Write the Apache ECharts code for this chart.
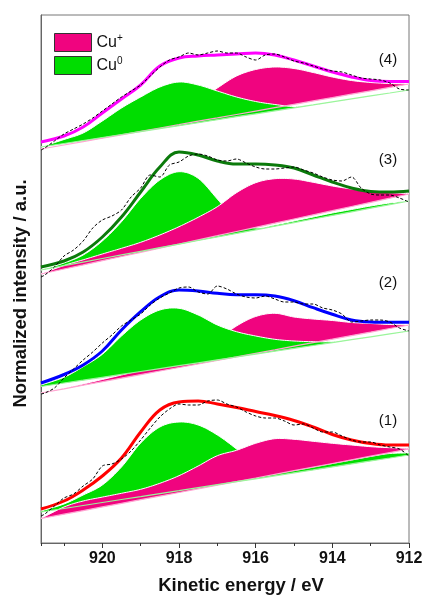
<!DOCTYPE html>
<html>
<head>
<meta charset="utf-8">
<script src="https://cdn.jsdelivr.net/npm/echarts@6/dist/echarts.min.js"></script>
<style>
html, body { margin: 0; padding: 0; background: #fff; }
#chart { width: 425px; height: 597px; }
</style>
</head>
<body>
<div id="chart"></div>
<script>
// energy grid of the fitted curves (eV)
const energy = [921.6, 921, 920.5, 920, 919.5, 919, 918.5, 918, 917.5, 917, 916.5, 916, 915.5, 915, 914.5, 914, 913.5, 913, 912.5, 912];
// energy grid of the measured data (eV)
const energyRaw = [921.6, 921.5, 921.25, 921, 920.75, 920.5, 920.25, 920, 919.75, 919.5, 919.25, 919, 918.75, 918.5, 918.25, 918,
  917.75, 917.5, 917.25, 917, 916.75, 916.5, 916.25, 916, 915.75, 915.5, 915.25, 915, 914.75, 914.5, 914.25, 914,
  913.75, 913.5, 913.25, 913, 912.75, 912.5, 912.25, 912];

// (4)
const env4 = [401, 407, 416, 430, 444, 458, 477, 485, 487, 488, 489, 490, 488, 483, 477, 471, 466, 462.5, 461.5, 461.5];
const cu0Base4 = [396, 399.5, 402.5, 405.5, 408.5, 411.4, 414.4, 417.3, 420.3, 423.3, 426.3, 429.2, 432.2, 435.2, 438.1, 441.1, 444.1, 447.1, 450, 453];
const cu0Top4 = [396, 403.5, 410, 422, 435, 446, 456, 461, 458, 452, 446, 441.5, 438.5, 436.5, 438.1, 441.1, 444.1, 447.1, 450, 453];
const cu1Base4 = [394, 398, 401.4, 404.8, 408.2, 411.6, 415, 418.3, 421.8, 425.1, 428.5, 431.9, 435.3, 438.7, 442.1, 445.4, 448.8, 452.2, 455.6, 459];
const cu1Top4 = [394, 398, 401.7, 405.5, 410, 415.5, 422, 431, 442, 455, 467, 473.5, 476, 474.5, 470.5, 466, 462.5, 460.5, 459.5, 459];
const raw4 = [393, 395, 402, 409, 414, 419, 425, 432, 439, 446, 452, 458, 467, 476, 483, 486, 490, 488, 490, 492,
  490, 490, 486, 483, 488, 489, 486, 482, 480, 477, 474, 472, 471, 468, 465, 464, 463, 460, 454, 453];

// (3)
const env3 = [276, 282, 291, 306, 326, 351, 376, 391, 388, 382, 379, 379, 378, 375, 368, 361, 355, 351.5, 351, 352];
const cu0Base3 = [273, 277.3, 280.9, 284.5, 288.1, 291.7, 295.3, 298.8, 302.5, 306.1, 309.6, 313.2, 316.8, 320.4, 324, 327.6, 331.2, 334.8, 338.4, 342];
const cu0Top3 = [273, 280, 288, 302, 321.3, 344.7, 363, 371.3, 364.7, 344, 322, 315, 318, 322, 326, 330, 333.5, 337, 340, 342];
const cu1Base3 = [269, 274, 278.1, 282.3, 286.5, 290.7, 294.8, 299, 303.2, 307.3, 311.5, 315.7, 319.8, 324, 328.2, 332.3, 336.5, 340.7, 344.8, 349];
const cu1Top3 = [269, 277.5, 283.2, 289, 294.7, 300.7, 308, 316.3, 325.7, 336.3, 350.3, 360.3, 364.3, 364, 360.7, 357, 354, 351.7, 350.3, 349.5];
const raw3 = [266, 268, 276, 287, 293, 302, 315, 323, 327, 333, 346, 355, 368, 366, 378, 381, 387, 389, 387, 383,
  382, 384, 380, 376, 374, 374, 375, 376, 373, 370, 366, 363, 362, 366, 355, 349, 348, 348, 345, 341];

// (2)
const env2 = [160, 168.5, 178, 192, 213, 231.3, 246.3, 253, 252, 249.7, 248.3, 248.3, 247, 242.3, 235.3, 228.7, 223, 221, 220.7, 220.7];
const cu0Base2 = [156.5, 160, 162.8, 165.7, 168.6, 171.5, 174.4, 177.3, 180.2, 183.1, 186, 188.9, 191.8, 194.7, 197.5, 200.4, 203.3, 206.2, 209.1, 212];
const cu0Top2 = [158, 165.7, 176.3, 188.7, 207, 223, 233, 234.7, 228, 218, 211.3, 207, 203.7, 202, 201.3, 201.3, 203.3, 206.2, 209.1, 212];
const cu1Base2 = [150, 154.2, 157.8, 161.3, 164.9, 168.4, 172, 175.5, 179, 182.6, 186.1, 189.7, 193.2, 196.8, 200.3, 203.8, 207.4, 210.9, 214.5, 218];
const cu1Top2 = [150, 154.5, 159, 163.5, 168, 172.5, 176.5, 180.5, 191, 203, 217, 226.5, 229.7, 226, 224, 222.5, 220.5, 219.5, 218.5, 218];
const raw2 = [149, 150, 155, 165, 174, 183, 191, 200, 208, 217, 223, 229, 238, 245, 250, 255, 256, 251, 249, 257,
  254, 249, 246, 245, 247, 244, 241, 241, 239, 239, 235, 233, 229, 221, 222, 223, 223, 221, 215, 212];

// (1)
const env1 = [34, 42, 53, 67, 85, 111, 133, 141, 142, 139, 135.5, 131.5, 127.5, 122.5, 116, 108.5, 103, 99.5, 98, 98];
const cu0Base1 = [31, 34.5, 37.5, 40.5, 43.5, 46.4, 49.4, 52.3, 55.3, 58.3, 61.3, 64.2, 67.2, 70.2, 73.1, 76.1, 79.1, 82.1, 85, 88];
const cu0Top1 = [32, 39, 48, 58, 76, 100, 116, 121, 118, 108, 94, 78, 71, 72.5, 76, 79.5, 83, 86.5, 89.5, 90];
const cu1Base1 = [24.5, 28.8, 32.4, 36.1, 39.7, 43.3, 46.9, 50.5, 54.2, 57.8, 61.4, 65, 68.7, 72.3, 75.9, 79.5, 83.2, 86.8, 90.4, 94];
const cu1Top1 = [24.5, 36, 42, 45.9, 49.7, 53.7, 59.7, 67.3, 77, 87.3, 92.7, 99.7, 104.3, 103.7, 101.7, 99.7, 98, 96.3, 95.3, 94.7];
const raw1 = [27, 29, 37, 45, 49, 57, 64, 77, 79, 84, 92, 103, 115, 126, 134, 139, 138, 138, 142, 143,
  139, 136, 131, 127, 125, 125, 122, 118, 119, 115, 111, 111, 107, 103, 101, 101, 98, 96, 94, 87];

const panelTags = ['(4)', '(3)', '(2)', '(1)'];

const FONT = "'Liberation Sans', Arial, sans-serif";
const PINK = '#F0047F';
const GREEN = '#00DD00';

const panels = [
  { env: env4, raw: raw4, cu0: [cu0Base4, cu0Top4], cu1: [cu1Base4, cu1Top4], color: '#FF00FF', pinkOnTop: false },
  { env: env3, raw: raw3, cu0: [cu0Base3, cu0Top3], cu1: [cu1Base3, cu1Top3], color: '#0B7A0B', pinkOnTop: true },
  { env: env2, raw: raw2, cu0: [cu0Base2, cu0Top2], cu1: [cu1Base2, cu1Top2], color: '#0000FF', pinkOnTop: false },
  { env: env1, raw: raw1, cu0: [cu0Base1, cu0Top1], cu1: [cu1Base1, cu1Top1], color: '#FF0000', pinkOnTop: true }
];

function pairs(xs, ys) {
  return xs.map((x, i) => [x, ys[i]]);
}

// catmull-rom through screen points, only for drawing the curved edge
function spline(pts, steps) {
  const out = [];
  for (let i = 0; i < pts.length - 1; i++) {
    const p0 = pts[Math.max(i - 1, 0)], p1 = pts[i], p2 = pts[i + 1], p3 = pts[Math.min(i + 2, pts.length - 1)];
    for (let s = 0; s < steps; s++) {
      const t = s / steps, t2 = t * t, t3 = t2 * t;
      out.push([0, 1].map(d => 0.5 * (2 * p1[d] + (-p0[d] + p2[d]) * t +
        (2 * p0[d] - 5 * p1[d] + 4 * p2[d] - p3[d]) * t2 + (-p0[d] + 3 * p1[d] - 3 * p2[d] + p3[d]) * t3)));
    }
  }
  out.push(pts[pts.length - 1]);
  return out;
}

// peak area: region between the peak's own background and its top curve
function peakSeries(name, base, top, color) {
  return {
    type: 'custom', name: name, silent: true, z: 2,
    itemStyle: { color: color },
    data: [0],
    renderItem: function (params, api) {
      const upper = spline(energy.map((e, i) => api.coord([e, top[i]])), 8);
      const lower = energy.map((e, i) => api.coord([e, base[i]])).reverse();
      return {
        type: 'group',
        children: [
          { type: 'polygon', shape: { points: upper.concat(lower) }, style: { fill: color, stroke: null } },
          { type: 'polyline', shape: { points: upper }, style: { fill: null, stroke: '#fff', lineWidth: 1 } }
        ]
      };
    }
  };
}

const series = [];
panels.forEach((p) => {
  const pink = peakSeries('Cu+', p.cu1[0], p.cu1[1], PINK);
  const green = peakSeries('Cu0', p.cu0[0], p.cu0[1], GREEN);
  series.push(...(p.pinkOnTop ? [green, pink] : [pink, green]));
  series.push({
    type: 'line', silent: true, data: pairs(energy, p.cu1[0]), symbol: 'none',
    lineStyle: { color: '#FFA6D2', width: 1.2 }, z: 3
  });
  series.push({
    type: 'line', silent: true, data: pairs(energy, p.cu0[0]), symbol: 'none',
    lineStyle: { color: '#9BF59B', width: 1.2 }, z: 3
  });
  series.push({
    type: 'line', silent: true, data: pairs(energy, p.env), symbol: 'none', smooth: 0.4,
    lineStyle: { color: p.color, width: 3 }, z: 4
  });
  series.push({
    type: 'line', silent: true, data: pairs(energyRaw, p.raw), symbol: 'none', smooth: 0.3,
    lineStyle: { color: '#000', width: 1, type: [3, 2] }, z: 5
  });
});

const chart = echarts.init(document.getElementById('chart'));
chart.setOption({
  animation: false,
  backgroundColor: '#fff',
  grid: {
    left: 41, right: 16, top: 15, bottom: 54,
    show: true, borderColor: '#777', borderWidth: 1, backgroundColor: 'transparent',
    outerBoundsMode: 'none'
  },
  legend: {
    orient: 'vertical', left: 49, top: 28,
    itemWidth: 37, itemHeight: 18, itemGap: 4,
    icon: 'rect', selectedMode: false,
    data: [
      { name: 'Cu+', itemStyle: { color: PINK, borderColor: '#333', borderWidth: 1 } },
      { name: 'Cu0', itemStyle: { color: GREEN, borderColor: '#333', borderWidth: 1 } }
    ],
    formatter: n => (n === 'Cu+' ? '{b|Cu}{s|+}' : '{b|Cu}{s|0}'),
    textStyle: {
      rich: {
        b: { fontFamily: FONT, fontSize: 16, color: '#111', lineHeight: 18 },
        s: { fontFamily: FONT, fontSize: 10, color: '#111', verticalAlign: 'top', lineHeight: 10 }
      }
    }
  },
  xAxis: [
    {
      type: 'value', min: 912, max: 921.6, interval: 2, inverse: true,
      name: 'Kinetic energy / eV', nameLocation: 'middle', nameGap: 33, nameMoveOverlap: false,
      nameTextStyle: { fontFamily: FONT, fontSize: 18.5, fontWeight: 'bold', color: '#111', padding: [0, 0, 0, 32] },
      axisLine: { show: true, onZero: false, lineStyle: { color: '#666', width: 1 } },
      axisTick: { show: true, length: 5, lineStyle: { color: '#333' } },
      axisLabel: { fontFamily: FONT, fontSize: 16, fontWeight: 'bold', color: '#111', margin: 8, showMaxLabel: false },
      splitLine: { show: false }
    },
    {
      type: 'value', min: 912, max: 921.6, interval: 1, inverse: true, position: 'bottom',
      axisLine: { show: false },
      axisTick: { show: true, length: 3, lineStyle: { color: '#333' } },
      axisLabel: { show: false },
      splitLine: { show: false }
    }
  ],
  yAxis: {
    type: 'value', min: 0, max: 528,
    name: 'Normalized intensity / a.u.', nameLocation: 'middle', nameGap: 11, nameMoveOverlap: false,
    nameTextStyle: { fontFamily: FONT, fontSize: 18.5, fontWeight: 'bold', color: '#111', padding: [0, 29, 0, 0] },
    axisLine: { show: true, lineStyle: { color: '#666', width: 1 } },
    axisTick: { show: false },
    axisLabel: { show: false },
    splitLine: { show: false }
  },
  graphic: panelTags.map((t, k) => ({
    type: 'text', x: 388, y: [60, 160, 283, 421][k], silent: true,
    style: { text: t, fill: '#111', fontFamily: FONT, fontSize: 15, align: 'center', verticalAlign: 'middle' }
  })),
  series: series
});
</script>
</body>
</html>
